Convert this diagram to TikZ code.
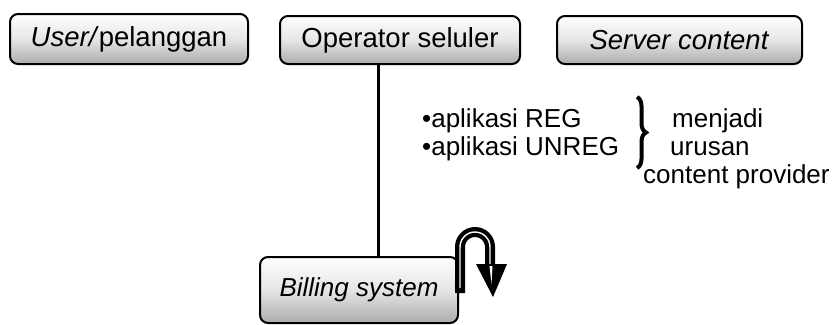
\documentclass[tikz,border=0pt]{standalone}
\usepackage{fontspec}
\setmainfont{Liberation Sans}
\usetikzlibrary{decorations.pathreplacing}
\tikzset{
  box/.style={draw=black, line width=2pt, rounded corners=8pt,
    top color=white, bottom color=gray!65, middle color=gray!20,
    inner sep=0pt, font=\fontsize{27.5}{29}\selectfont},
  note/.style={anchor=base west, inner sep=0pt, text height=18pt, text depth=5pt,
    font=\fontsize{26}{28}\selectfont},
  link/.style={line width=3pt},
  uturn/.style={line width=10pt, line cap=butt},
  uturnin/.style={white, line width=1.4pt, line cap=butt}
}
\begin{document}
\begin{tikzpicture}[x=1pt,y=-1pt]
\useasboundingbox (0,0) rectangle (840,324);
\node[box, minimum width=238pt, minimum height=50pt] (user) at (129,39) {\textit{User/}pelanggan};
\node[box, minimum width=240pt, minimum height=48pt] (op) at (400,40) {Operator seluler};
\node[box, minimum width=245pt, minimum height=48pt] (srv) at (679.5,40) {\textit{Server content}};
\node[box, minimum width=198pt, minimum height=66pt, font=\fontsize{26}{28}\selectfont] (bill) at (359,290) {\textit{Billing system}};
\coordinate (lx) at (378,0);
\draw[link] (op.south -| lx) -- (bill.north -| lx);
% notes
\node[note] (r1) at (422,127) {•aplikasi REG};
\node[note] (r2) at (422,155) {•aplikasi UNREG};
\coordinate (bt) at (637,97);
\coordinate (bb) at (637,168);
\draw[line width=4pt, decorate, decoration={brace, amplitude=9pt}] (bt) -- (bb);
\node[note] (m1) at (672,127) {menjadi};
\node[note] (m2) at (670,155) {urusan};
\node[note] (m3) at (643,183) {content provider};
% U-turn arrow
\coordinate (a0) at (460,293);
\coordinate (a1) at (460,247);
\coordinate (a2) at (490,266);
\draw[uturn] (a0) -- (a1) arc[start angle=180, end angle=360, radius=15] -- (a2);
\draw[uturnin] (460,288) -- (a1) arc[start angle=180, end angle=360, radius=15] -- (490,272);
\fill[black] (476,264) -- (507,264) -- (493,297) -- cycle;
\fill[white] (489.5,266) -- (492.5,266) -- (491.5,284) -- cycle;
\end{tikzpicture}
\end{document}
